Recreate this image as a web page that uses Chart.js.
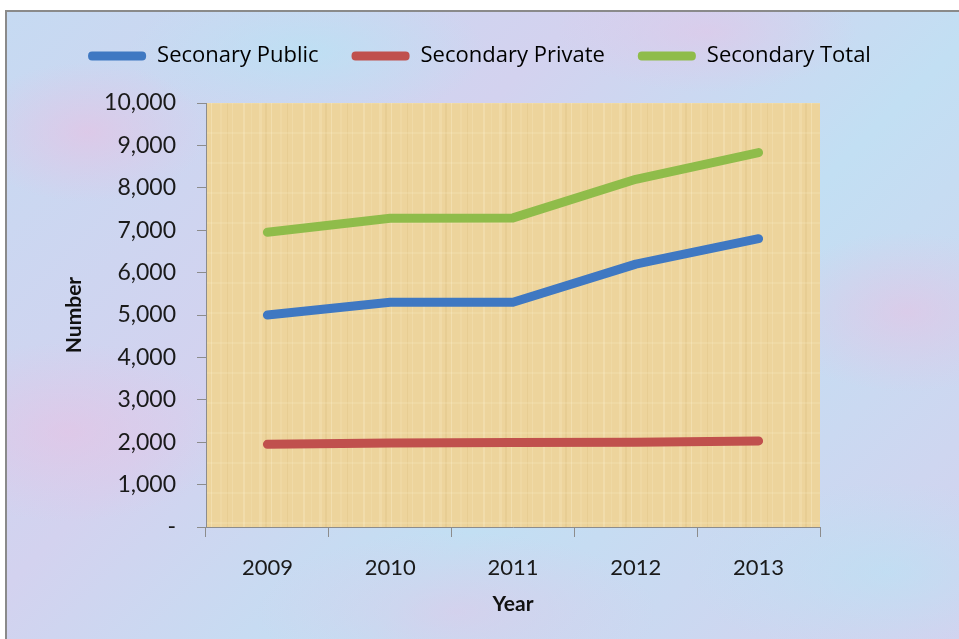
<!DOCTYPE html>
<html>
<head>
<meta charset="utf-8">
<script src="https://cdn.jsdelivr.net/npm/chart.js@4"></script>
<style>
  html, body { margin: 0; padding: 0; background: #fff; }
  body { width: 959px; height: 639px; position: relative; overflow: hidden; }
  #frame {
    position: absolute; left: 5px; top: 10px; width: 980px; height: 660px;
    border-left: 2px solid #8a8a8a; border-top: 2px solid #8a8a8a;
    background:
      radial-gradient(ellipse 120px 70px at 80px 120px, rgba(235,190,225,0.55), transparent),
      radial-gradient(ellipse 160px 90px at 60px 420px, rgba(235,190,225,0.5), transparent),
      radial-gradient(ellipse 140px 80px at 900px 300px, rgba(235,190,225,0.5), transparent),
      radial-gradient(ellipse 200px 80px at 450px 600px, rgba(230,195,230,0.45), transparent),
      radial-gradient(ellipse 180px 70px at 300px 40px, rgba(180,230,245,0.6), transparent),
      radial-gradient(ellipse 200px 90px at 880px 560px, rgba(180,230,245,0.5), transparent),
      radial-gradient(ellipse 150px 60px at 700px 20px, rgba(230,195,230,0.5), transparent),
      linear-gradient(135deg, #c6daf2 0%, #d3d2ef 35%, #c2dff3 60%, #d6d0ee 100%);
  }
  #chart { position: absolute; left: 0; top: 0; }
</style>
</head>
<body>
<div id="frame"></div>
<canvas id="chart" width="959" height="639"></canvas>
<script>
// data
const years = ['2009', '2010', '2011', '2012', '2013'];
const publicVals = [5000, 5300, 5300, 6200, 6800];
const privateVals = [1950, 1980, 1990, 2000, 2030];
const totalVals = [6950, 7280, 7290, 8200, 8830];
const seriesNames = ['Seconary Public', 'Secondary Private', 'Secondary Total'];
const seriesColors = ['#3f78c2', '#c0504d', '#8fbc4a'];

// papyrus look for the plot area
function papyrus(ctx) {
  let c = document.createElement('canvas');
  c.width = 60; c.height = 30;
  let g = c.getContext('2d');
  g.fillStyle = '#edd49c';
  g.fillRect(0, 0, 60, 30);
  let stripes = [[3, 2, 0.25], [11, 1, 0.15], [19, 3, 0.2], [31, 1, 0.3], [40, 2, 0.12], [52, 1, 0.2]];
  stripes.forEach(s => {
    g.fillStyle = 'rgba(255,245,215,' + s[2] + ')';
    g.fillRect(s[0], 0, s[1], 30);
  });
  g.fillStyle = 'rgba(200,160,90,0.14)';
  g.fillRect(25, 0, 2, 30);
  g.fillRect(47, 0, 1, 30);
  g.fillStyle = 'rgba(255,245,215,0.15)';
  g.fillRect(0, 12, 60, 2);
  return ctx.createPattern(c, 'repeat');
}

const plotBg = {
  id: 'plotBg',
  beforeDraw(chart) {
    let a = chart.chartArea;
    let ctx = chart.ctx;
    ctx.save();
    ctx.fillStyle = papyrus(ctx);
    ctx.fillRect(a.left, a.top, a.right - a.left, a.bottom - a.top);
    ctx.restore();
  }
};

const diagram = document.getElementById('chart').getContext('2d');
const myChart = new Chart(diagram, {
  type: 'line',
  data: {
    labels: years,
    datasets: [
      { label: seriesNames[0], data: publicVals, borderColor: seriesColors[0], backgroundColor: seriesColors[0] },
      { label: seriesNames[1], data: privateVals, borderColor: seriesColors[1], backgroundColor: seriesColors[1] },
      { label: seriesNames[2], data: totalVals, borderColor: seriesColors[2], backgroundColor: seriesColors[2] }
    ]
  },
  options: {
    responsive: false,
    animation: false,
    elements: {
      line: { borderWidth: 9, tension: 0, borderCapStyle: 'round', borderJoinStyle: 'round' },
      point: { radius: 0 }
    },
    layout: { padding: { left: 0, right: 0, top: 12, bottom: 18 } },
    plugins: {
      tooltip: { enabled: false },
      legend: {
        position: 'top',
        labels: {
          font: { family: 'Open Sans', size: 22 },
          color: '#1a1a1a',
          boxWidth: 58,
          boxHeight: 9,
          padding: 33,
          useBorderRadius: true,
          borderRadius: 4,
          generateLabels(chart) {
            return chart.data.datasets.map((d, i) => ({
              text: d.label,
              fillStyle: d.borderColor,
              strokeStyle: d.borderColor,
              lineWidth: 0,
              borderRadius: 4,
              datasetIndex: i
            }));
          }
        }
      }
    },
    scales: {
      x: {
        offset: true,
        grid: { offset: true, drawOnChartArea: false, tickLength: 10, color: '#8c8c8c' },
        border: { color: '#8c8c8c' },
        ticks: { font: { family: 'Lato', size: 22 }, color: '#1a1a1a', padding: 18 },
        title: { display: true, text: 'Year', font: { family: 'Lato', size: 21, weight: 'bold' }, color: '#111', padding: { top: 6 } },
        afterFit(s) { s.height = 94; }
      },
      // empty top axis, only a gap between legend and plot
      xTop: {
        position: 'top',
        display: true,
        grid: { display: false },
        border: { display: false },
        ticks: { display: false },
        afterFit(s) { s.height = 26; }
      },
      y: {
        min: 0,
        max: 10000,
        ticks: {
          stepSize: 1000,
          font: { family: 'Lato', size: 23 },
          color: '#1a1a1a',
          padding: 21,
          callback: v => v === 0 ? '-' : v.toLocaleString('en-US')
        },
        grid: { drawOnChartArea: false, tickLength: 9, color: '#8c8c8c' },
        border: { color: '#8c8c8c' },
        title: { display: true, text: 'Number', font: { family: 'Lato', size: 21, weight: 'bold' }, color: '#111', padding: { top: 62, bottom: 0 } },
        afterFit(s) { s.width = 206; }
      },
      // empty right-hand axis, only to keep the plot's right edge where it is
      yRight: {
        position: 'right',
        display: true,
        grid: { display: false },
        border: { display: false },
        ticks: { display: false },
        afterFit(s) { s.width = 139; }
      }
    }
  },
  plugins: [plotBg]
});
</script>
</body>
</html>
